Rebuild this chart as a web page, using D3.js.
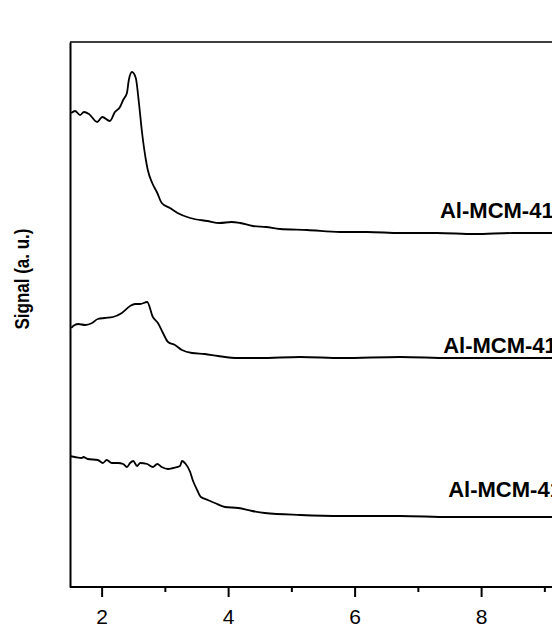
<!DOCTYPE html>
<html><head><meta charset="utf-8">
<script src="https://cdn.jsdelivr.net/npm/d3@7"></script>
<style>body{margin:0;background:#fff;overflow:hidden}</style>
</head><body>
<svg id="c" width="552" height="629"></svg>
<script>
// ---- data ----
const xMajorTicks = [2, 4, 6, 8];
const xMinorTicks = [3, 5, 7, 9];
const yAxisTitle = "Signal (a. u.)";
const seriesLabels = ["Al-MCM-41", "Al-MCM-41", "Al-MCM-41"];

const s1x = [1.52,1.58,1.66,1.72,1.80,1.93,2.01,2.13,2.21,2.29,2.34,2.40,2.43,2.48,2.54,2.59,2.64,2.70,2.73,2.80,2.88,2.95,3.08,3.20,3.40,3.67,3.87,4.05,4.19,4.39,4.60,4.82,5.25,5.77,6.20,6.72,7.30,7.90,8.50,9.09,9.60,10.0];
const s1y = [474,476,472,475,473,465,470,466,475,480,487,494,507,515,509,484,454,427,417,404,394,384,379,374,369,366,364,365,364,361,360,358,357,355,355,354,354,353,354,354,353,354];

const s2x = [1.52,1.55,1.63,1.74,1.85,1.94,2.05,2.18,2.32,2.45,2.53,2.61,2.72,2.81,2.89,2.97,3.05,3.16,3.27,3.43,3.63,3.84,4.16,4.50,5.14,5.80,6.72,7.50,8.30,9.09,9.60,10.0];
const s2y = [259,261,263,262,264,268,269,270,274,281,283,283,285,270,264,254,245,242,237,234,233,231,229,229,230,229,230,229,229,229,229,229];

const s3x = [1.50,1.58,1.69,1.71,1.78,1.94,2.02,2.08,2.16,2.26,2.34,2.40,2.45,2.50,2.56,2.61,2.72,2.81,2.88,2.95,3.05,3.13,3.24,3.27,3.33,3.40,3.44,3.51,3.57,3.68,3.79,3.95,4.16,4.38,4.58,5.14,5.80,6.72,7.50,8.30,9.09,9.60,10.0];
const s3y = [131,130,129,130,128,127,124,127,124,124,123,120,124,126,121,124,123,120,123,120,118,119,121,126,123,115,107,97,90,87,84,80,79,76,74,72,71,71,70,70,70,70,70];

const labelPos = [[7.35, 369], [7.40, 234], [7.48, 90]]; // label anchor (x value, signal value)

// ---- layout ----
const svg = d3.select("#c");
const x = d3.scaleLinear().domain([1.5, 10]).range([70, 607.6]);
const y = d3.scaleLinear().domain([0, 545]).range([587, 42]);
const font = "Arial, 'Liberation Sans', Helvetica, sans-serif";

// frame top
svg.append("line").attr("x1", 70).attr("x2", 620).attr("y1", 42).attr("y2", 42)
  .attr("stroke", "#000").attr("stroke-width", 1.5);

// bottom axis
const xAxis = d3.axisBottom(x).tickValues(xMajorTicks).tickSize(10).tickPadding(12).tickFormat(d3.format("d"));
const gx = svg.append("g").attr("transform", "translate(0,587)").call(xAxis);
gx.select(".domain").attr("stroke-width", 2).attr("d", "M70,0H620");
gx.selectAll(".tick line").attr("stroke-width", 2);
gx.selectAll(".tick text").attr("font-family", font).attr("font-size", 21).attr("fill", "#000");
const gxm = svg.append("g").attr("transform", "translate(0,587)")
  .call(d3.axisBottom(x).tickValues(xMinorTicks).tickSize(5).tickFormat(""));
gxm.select(".domain").remove();
gxm.selectAll(".tick line").attr("stroke-width", 2);

// left axis (no ticks)
const gy = svg.append("g").attr("transform", "translate(70,0)")
  .call(d3.axisLeft(y).tickValues([]).tickSizeOuter(0));
gy.select(".domain").attr("stroke-width", 2);

// y title
svg.append("text").attr("transform", "translate(29,279) rotate(-90) scale(1,1.2)")
  .attr("text-anchor", "middle").attr("font-family", font).attr("font-weight", "bold")
  .attr("font-size", 17).text(yAxisTitle);

// curves
const line = d3.line().x(d => x(d[0])).y(d => y(d[1])).curve(d3.curveMonotoneX);
const series = [d3.zip(s1x, s1y), d3.zip(s2x, s2y), d3.zip(s3x, s3y)];
svg.append("defs").append("clipPath").attr("id", "pc").append("rect")
  .attr("x", 71).attr("y", 43).attr("width", 600).attr("height", 543);
svg.append("g").attr("clip-path", "url(#pc)").selectAll("path").data(series).join("path")
  .attr("d", line).attr("fill", "none").attr("stroke", "#000").attr("stroke-width", 1.8);

// labels
svg.selectAll("text.lab").data(seriesLabels).join("text").attr("class", "lab")
  .attr("x", (d, i) => x(labelPos[i][0])).attr("y", (d, i) => y(labelPos[i][1]))
  .attr("font-family", font).attr("font-weight", "bold").attr("font-size", 22)
  .text(d => d);
</script>
</body></html>
